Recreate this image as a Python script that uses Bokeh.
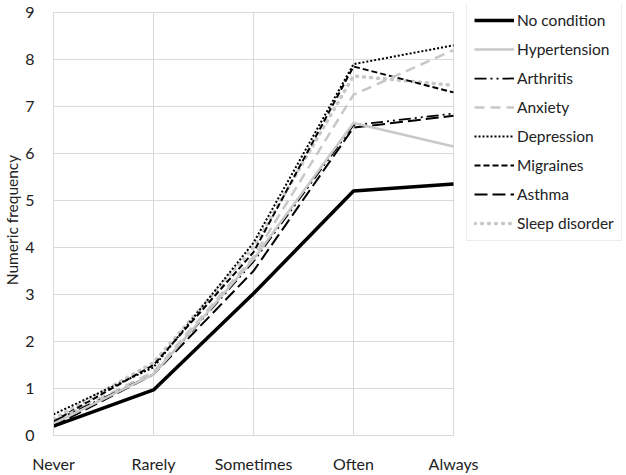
from bokeh.plotting import figure
from bokeh.models import Range1d, FixedTicker, Legend, LegendItem
from bokeh.embed import file_html
from bokeh.resources import INLINE

categories = ["Never", "Rarely", "Sometimes", "Often", "Always"]
no_condition = [0.2, 0.97, 3.02, 5.2, 5.35]
hypertension = [0.25, 1.3, 3.75, 6.65, 6.15]
arthritis = [0.3, 1.3, 3.7, 6.6, 6.85]
anxiety = [0.3, 1.35, 3.8, 7.25, 8.2]
depression = [0.45, 1.45, 4.1, 7.9, 8.3]
migraines = [0.3, 1.5, 3.9, 7.85, 7.3]
asthma = [0.2, 1.3, 3.5, 6.55, 6.8]
sleep_disorder = [0.35, 1.55, 4.0, 7.65, 7.45]
y_ticks = [0, 1, 2, 3, 4, 5, 6, 7, 8, 9]

FONT = "Lato"
GRID = "#d9d9d9"
x = list(range(len(categories)))
x_last = x[-1]
y_top = y_ticks[-1]

p = figure(width=626, height=475, output_backend="svg", toolbar_location=None,
           x_range=Range1d(0, 5.73), y_range=Range1d(0, 9.169),
           min_border_left=53, min_border_right=0, min_border_top=4, min_border_bottom=38)
p.outline_line_color = None
p.background_fill_color = "white"
p.border_fill_color = "white"
p.xgrid.grid_line_color = None
p.ygrid.grid_line_color = None

# gridlines limited to the data area
p.segment(x0=x, x1=x, y0=[0] * len(x), y1=[y_top] * len(x), line_color=GRID, line_width=1)
p.segment(x0=[0] * len(y_ticks), x1=[x_last] * len(y_ticks), y0=y_ticks, y1=y_ticks,
          line_color=GRID, line_width=1)

p.xaxis.ticker = FixedTicker(ticks=x)
p.xaxis.major_label_overrides = {i: c for i, c in enumerate(categories)}
p.xaxis.bounds = (0, x_last)
p.yaxis.ticker = FixedTicker(ticks=y_ticks)
p.yaxis.bounds = (0, y_top)
for ax in (p.xaxis, p.yaxis):
    ax.major_tick_line_color = None
    ax.minor_tick_line_color = None
    ax.major_label_text_font = FONT
    ax.major_label_text_font_size = "16px"
    ax.major_label_text_color = "#222222"
    ax.axis_line_color = GRID
p.xaxis.major_label_standoff = 12
p.yaxis.major_label_standoff = 13
p.yaxis.axis_label = "Numeric frequency"
p.yaxis.axis_label_text_font = FONT
p.yaxis.axis_label_text_font_size = "15.5px"
p.yaxis.axis_label_text_font_style = "normal"
p.yaxis.axis_label_text_color = "#222222"
p.yaxis.axis_label_standoff = 1

series = [
    ("No condition", no_condition, "black", 3.5, "solid", "butt"),
    ("Hypertension", hypertension, "#c8c8c8", 2.5, "solid", "butt"),
    ("Arthritis", arthritis, "black", 1.75, "12 4 2 4 2 4", "butt"),
    ("Anxiety", anxiety, "#c8c8c8", 2.5, "10 6", "butt"),
    ("Depression", depression, "black", 2, "2 2", "butt"),
    ("Migraines", migraines, "black", 2, "6 3", "butt"),
    ("Asthma", asthma, "black", 2, "13 5", "butt"),
    ("Sleep disorder", sleep_disorder, "#c8c8c8", 3.5, "1 6", "round"),
]

items = []
for name, ys, color, w, dash, cap in reversed(series):
    r = p.line(x, ys, line_color=color, line_width=w, line_dash=dash, line_cap=cap,
               line_join="round")
    items.append(LegendItem(label=name, renderers=[r]))
items.reverse()

legend = Legend(items=items, location=(413, 194))
legend.label_text_font = FONT
legend.label_text_font_size = "15.5px"
legend.label_text_color = "#222222"
legend.glyph_width = 40
legend.glyph_height = 20
legend.label_height = 20
legend.label_standoff = 3
legend.spacing = 9
legend.padding = 7
legend.margin = 0
legend.border_line_color = GRID
legend.border_line_width = 1
legend.background_fill_alpha = 1
p.add_layout(legend, "center")

open("out.html", "w").write(file_html(p, INLINE))
